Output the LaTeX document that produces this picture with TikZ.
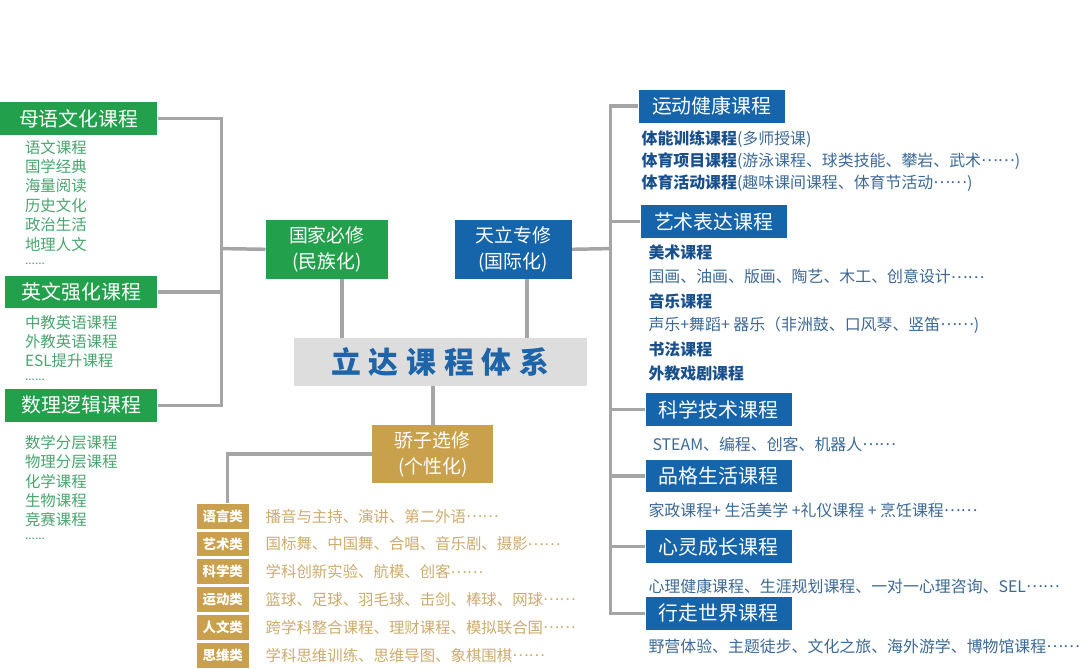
\documentclass[tikz,border=0pt]{standalone}
\usepackage{fontspec}
\setmainfont{Noto Sans CJK SC}
\definecolor{gboxc}{RGB}{34,160,76}
\definecolor{bboxc}{RGB}{22,100,170}
\definecolor{yboxc}{RGB}{201,160,76}
\definecolor{tbg}{RGB}{221,221,221}
\definecolor{ttext}{RGB}{30,100,168}
\definecolor{gtext}{RGB}{72,165,110}
\definecolor{ytext}{RGB}{204,172,110}
\definecolor{btext}{RGB}{60,105,150}
\definecolor{bhead}{RGB}{25,80,140}
\definecolor{linkgray}{RGB}{165,165,165}
\newcommand\hd[1]{{\bfseries\color{bhead}#1}}
\newcommand\ellip{\raisebox{0.3em}{……}}
\begin{document}
\begin{tikzpicture}[x=1pt, y=-1pt,
  link/.style={draw=linkgray, line width=3.5pt},
  box/.style={inner sep=0pt, text=white, anchor=north west, font=\fontsize{20}{24}\selectfont},
  gbox/.style={box, fill=gboxc},
  bbox/.style={box, fill=bboxc},
  ybox/.style={box, fill=yboxc},
  pair/.style={align=center, font=\fontsize{19}{26}\selectfont},
  titlebox/.style={inner sep=0pt, anchor=north west, fill=tbg, text=ttext, minimum width=295, minimum height=48, font=\fontsize{30}{34}\selectfont\bfseries},
  catbox/.style={inner sep=0pt, fill=yboxc, text=white, minimum width=52, minimum height=25, font=\fontsize{13.5}{15}\selectfont\bfseries},
  gitem/.style={inner sep=0pt, anchor=west, text=gtext, font=\fontsize{15.5}{18}\selectfont},
  yitem/.style={inner sep=0pt, anchor=west, text=ytext, font=\fontsize{15.5}{18}\selectfont},
  bitem/.style={inner sep=0pt, anchor=west, text=btext, font=\fontsize{16}{18}\selectfont},
  dots/.style={inner sep=0pt, anchor=base west, text=gtext, font=\fontsize{12}{14}\selectfont}]
  \fill[white] (0,0) rectangle (1080,672);

  % left: national courses
  \node[gbox, minimum width=158, minimum height=34] (muyu) at (0,102) {母语文化课程};
  \node[gbox, minimum width=153, minimum height=33] (yingwen) at (5,277) {英文强化课程};
  \node[gbox, minimum width=153, minimum height=33] (shuli) at (5,391) {数理逻辑课程};
  \foreach \t [count=\i from 0] in {语文课程,国学经典,海量阅读,历史文化,政治生活,地理人文}
    \node[gitem] (mu\i) at (25,148+19.5*\i) {\t};
  \node[dots] (mudots) at (25,266) {......};
  \foreach \t [count=\i from 0] in {中教英语课程,外教英语课程,ESL提升课程}
    \node[gitem] (ying\i) at (25,324+19.5*\i) {\t};
  \node[dots] (yingdots) at (25,383) {......};
  \foreach \t [count=\i from 0] in {数学分层课程,物理分层课程,化学课程,生物课程,竞赛课程}
    \node[gitem] (shu\i) at (25,445+19.5*\i) {\t};
  \node[dots] (shudots) at (25,543) {......};

  % centre
  \node[gbox, pair, minimum width=123, minimum height=59] (guojia) at (267,221) {国家必修\\(民族化)};
  \node[bbox, pair, minimum width=118, minimum height=59] (tianli) at (457,221) {天立专修\\(国际化)};
  \node[titlebox] (tixi) at (295,340) {立\hspace{7.8pt}达\hspace{7.8pt}课\hspace{7.8pt}程\hspace{7.8pt}体\hspace{7.8pt}系};
  \node[ybox, pair, minimum width=122, minimum height=59] (jiaozi) at (374,427) {骄子选修\\(个性化)};

  % bottom: electives
  \foreach \n/\t/\s [count=\i from 0] in {
      yuyan/语言类/{播音与主持、演讲、第二外语\ellip},
      yishulei/艺术类/{国标舞、中国舞、合唱、音乐剧、摄影\ellip},
      kexuelei/科学类/{学科创新实验、航模、创客\ellip},
      yundonglei/运动类/{篮球、足球、羽毛球、击剑、棒球、网球\ellip},
      renwen/人文类/{跨学科整合课程、理财课程、模拟联合国\ellip},
      siwei/思维类/{学科思维训练、思维导图、象棋围棋\ellip}} {
    \node[catbox] (\n) at (224,519+28*\i) {\t};
    \node[yitem] (\n t) at (267,519+28*\i) {\s};
  }

  % right: international courses
  \foreach \n/\t/\x/\y in {yundong/运动健康课程/642/90, yishu/艺术表达课程/644/206,
      kexue/科学技术课程/649/395, pinge/品格生活课程/649/462,
      xinling/心灵成长课程/649/533, xingzou/行走世界课程/649/600}
    \node[bbox, minimum width=147, minimum height=33] (\n) at (\x,\y) {\t};
  \foreach \t [count=\i from 0] in {{\hd{体能训练课程}(多师授课)},
      {\hd{体育项目课程}(游泳课程、球类技能、攀岩、武术\ellip)},
      {\hd{体育活动课程}(趣味课间课程、体育节活动\ellip)}}
    \node[bitem] (yun\i) at (645,140+22*\i) {\t};
  \foreach \t [count=\i from 0] in {{\hd{美术课程}},
      {国画、油画、版画、陶艺、木工、创意设计\ellip},
      {\hd{音乐课程}},
      {声乐+舞蹈+ 器乐（非洲鼓、口风琴、竖笛\ellip)},
      {\hd{书法课程}},
      {\hd{外教戏剧课程}}}
    \node[bitem] (yi\i) at (652,254+24.4*\i) {\t};
  \node[bitem] (kexuet) at (656,447) {STEAM、编程、创客、机器人\ellip};
  \node[bitem] (pinget) at (652,513) {家政课程+ 生活美学 +礼仪课程 + 烹饪课程\ellip};
  \node[bitem] (xinlingt) at (652,590) {心理健康课程、生涯规划课程、一对一心理咨询、SEL\ellip};
  \node[bitem] (xingzout) at (652,650) {野营体验、主题徒步、文化之旅、海外游学、博物馆课程\ellip};

  % connectors
  \coordinate (lbus) at (223,250);
  \coordinate (rbus) at (614,250);
  \draw[link] (muyu.east) -| (lbus);
  \draw[link] (shuli.east) -| (lbus);
  \draw[link] (yingwen.east) -- (yingwen.east -| lbus);
  \draw[link] (lbus) -- (guojia.west);
  \draw[link] (tianli.east) -- (rbus);
  \draw[link] (yundong.west) -| (rbus);
  \draw[link] (xingzou.west) -| (rbus);
  \foreach \n in {yishu,kexue,pinge,xinling}
    \draw[link] (\n.west) -- (\n.west -| rbus);
  \draw[link] ([xshift=15]guojia.south) -- ([xshift=15]guojia.south |- tixi.north);
  \draw[link] ([xshift=14]tianli.south) -- ([xshift=14]tianli.south |- tixi.north);
  \draw[link] (jiaozi.north) -- (jiaozi.north |- tixi.south);
  \draw[link] (jiaozi.west) -| ([xshift=5]yuyan.north);
\end{tikzpicture}
\end{document}
